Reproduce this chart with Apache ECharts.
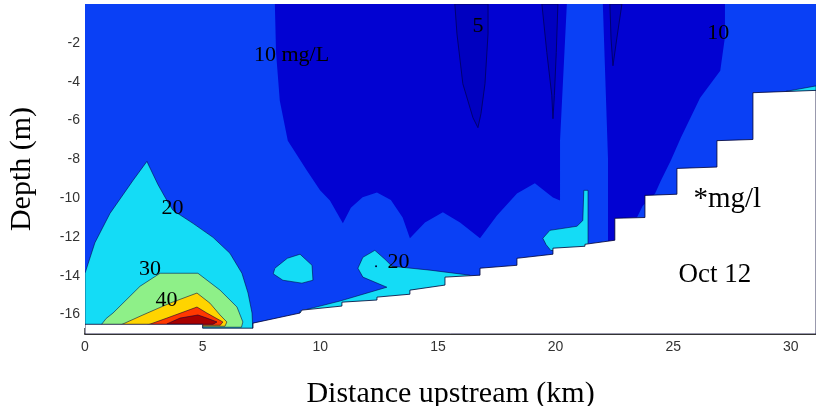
<!DOCTYPE html>
<html>
<head>
<meta charset="utf-8">
<script src="https://cdn.jsdelivr.net/npm/echarts@6/dist/echarts.min.js"></script>
<style>
html, body { margin: 0; padding: 0; background: #fff; }
#chart { width: 816px; height: 406px; }
</style>
</head>
<body>
<div id="chart"></div>
<script>
// contour regions, [distance km, depth m]
var waterBox   = [[0, 0], [31.07, 0], [31.07, -17], [0, -17]];
var darkLeft   = [[8.07, 0], [8.12, -2.5], [8.28, -4.98], [8.62, -7.04], [9.43, -8.58], [9.99, -9.6], [10.41, -10.12],
                  [10.96, -11.30], [11.3, -10.5], [11.8, -9.95], [12.41, -9.71], [13.0, -10.1], [13.5, -11.0],
                  [13.81, -12.07], [14.45, -11.25], [15.21, -10.73], [15.94, -11.25], [16.79, -12.07],
                  [17.51, -10.89], [18.36, -9.76], [19.12, -9.24], [19.89, -9.97], [20.19, -10.12],
                  [20.19, -7.04], [20.48, 0]];
var darkRight  = [[22.01, 0], [27.2, 0], [27.2, -1.7], [27.0, -3.44], [26.14, -4.84], [25.88, -5.5], [25.33, -6.88],
                  [24.9, -8.06], [24.48, -9.09], [24.23, -9.76], [23.7, -10.4], [23.46, -11.0], [23.2, -11.6],
                  [22.52, -12.3], [22.23, -12.5], [22.23, -8.0]];
var navy1      = [[15.72, 0], [15.81, -1.54], [16.06, -4.11], [16.49, -5.86], [16.70, -6.37], [16.83, -5.65],
                  [17.00, -4.11], [17.13, -1.54], [17.13, 0]];
var navy2      = [[19.42, 0], [19.63, -2.5], [19.84, -4.7], [19.89, -5.91], [19.95, -4.7], [20.03, -2.5], [20.1, 0]];
var navy3      = [[22.31, 0], [22.36, -1.8], [22.44, -3.18], [22.6, -1.8], [22.82, 0]];
var cyanPlume  = [[0, -13.87], [0.42, -12.3], [1.06, -10.79], [2.04, -9.09], [2.63, -8.11], [3.1, -9.3],
                  [3.48, -10.12], [3.74, -10.63], [4.59, -11.30], [5.44, -12.02], [6.16, -12.84], [6.67, -13.87],
                  [6.93, -14.89], [7.10, -15.92], [7.14, -17], [0, -17]];
var green      = [[0.64, -16.6], [0.9, -16.2], [1.19, -15.92], [2.34, -14.54], [3.19, -13.87], [4.80, -13.87],
                  [5.74, -14.74], [6.46, -15.61], [6.71, -16.38], [6.65, -16.65], [0.64, -16.65]];
var yellow     = [[1.49, -16.55], [2.46, -16.02], [3.61, -15.41], [4.76, -14.89], [5.31, -15.41], [5.74, -16.02],
                  [6.03, -16.38], [5.95, -16.6], [1.49, -16.6]];
var orange     = [[2.63, -16.55], [3.48, -16.18], [4.76, -15.61], [5.18, -15.92], [5.86, -16.38], [5.75, -16.55],
                  [2.63, -16.55]];
var darkRed    = [[3.48, -16.48], [4.04, -16.18], [4.80, -16.02], [5.18, -16.18], [5.61, -16.38], [5.44, -16.5],
                  [3.48, -16.5]];
var cyanBlob1  = [[8.07, -13.61], [8.6, -13.1], [9.14, -12.89], [9.65, -13.46], [9.69, -14.23], [9.22, -14.38],
                  [8.41, -14.23], [8.0, -13.9]];
var cyanBlob2  = [[11.60, -13.61], [11.81, -13.05], [12.32, -12.69], [12.75, -13.15], [13.05, -13.51],
                  [14.66, -13.71], [16.36, -13.97], [16.4, -15.0], [9.14, -16.3], [9.14, -15.82],
                  [10.84, -15.30], [12.83, -14.59], [11.81, -14.07]];
var cyanPatch  = [[19.46, -12.07], [19.76, -11.66], [20.91, -11.45], [21.16, -11.15], [21.2, -9.6], [21.38, -9.6],
                  [21.38, -12.6], [19.8, -12.7], [19.6, -12.4]];
var cyanSliver = [[29.8, -4.5], [31.07, -4.22], [31.07, -4.6]];
var seabed     = [[0, -16.5], [5.0, -16.5], [5.0, -16.7], [7.14, -16.7], [7.14, -16.44], [9.14, -15.92],
                  [9.22, -15.77], [10.92, -15.56], [10.92, -15.36], [12.41, -15.25], [12.41, -15.10],
                  [13.81, -14.95], [13.81, -14.74], [15.30, -14.48], [15.30, -14.07], [16.79, -13.97],
                  [16.79, -13.61], [18.36, -13.46], [18.36, -13.10], [19.89, -12.89], [19.89, -12.58],
                  [21.25, -12.48], [21.25, -12.38], [22.52, -12.17], [22.52, -11.04], [23.80, -11.0],
                  [23.80, -9.86], [25.16, -9.80], [25.16, -8.47], [26.86, -8.40], [26.86, -7.04],
                  [28.39, -6.98], [28.39, -4.57], [31.07, -4.45], [31.07, -17], [0, -17]];

// text on the plot
var labelText = ['10 mg/L', '5', '10', '20', '30', '40', '20', '*mg/l', 'Oct 12'];
var labelX    = [8.78, 16.70, 26.92, 3.72, 2.76, 3.46, 13.32, 27.30, 26.77];
var labelY    = [-2.62, -1.16, -1.52, -10.50, -13.64, -15.25, -13.28, -10.07, -13.97];
var labelDot  = [[12.37, -13.51]];

var depthTicks = [-16, -14, -12, -10, -8, -6, -4, -2];

var MEDIUM = '#0a40f5', DARK = '#0202d2', NAVY = '#0000c0', CYAN = '#14dcf6',
    GREEN = '#8ef088', YELLOW = '#ffd400', ORANGE = '#ff3800', RED = '#a80000';
var EDGE = 'rgba(0,0,60,0.55)';

var layers = [
    { pts: waterBox,   fill: MEDIUM, stroke: null },
    { pts: cyanPlume,  fill: CYAN,   stroke: EDGE },
    { pts: green,      fill: GREEN,  stroke: EDGE },
    { pts: yellow,     fill: YELLOW, stroke: EDGE },
    { pts: orange,     fill: ORANGE, stroke: EDGE },
    { pts: darkRed,    fill: RED,    stroke: EDGE },
    { pts: darkLeft,   fill: DARK,   stroke: null },
    { pts: darkRight,  fill: DARK,   stroke: null },
    { pts: navy1,      fill: NAVY,   stroke: '#000070' },
    { pts: navy2,      fill: NAVY,   stroke: '#000070' },
    { pts: navy3,      fill: NAVY,   stroke: '#000070' },
    { pts: cyanBlob1,  fill: CYAN,   stroke: EDGE },
    { pts: cyanBlob2,  fill: CYAN,   stroke: EDGE },
    { pts: cyanPatch,  fill: CYAN,   stroke: EDGE },
    { pts: cyanSliver, fill: CYAN,   stroke: EDGE },
    { pts: seabed,     fill: '#ffffff', stroke: 'rgba(0,0,50,0.8)' }
];

function renderLayer(params, api) {
    var layer = layers[params.dataIndex];
    var pts = layer.pts.map(function (p) { return api.coord(p); });
    return {
        type: 'polygon',
        shape: { points: pts },
        style: { fill: layer.fill, stroke: layer.stroke, lineWidth: 1 }
    };
}

var labelData = labelText.map(function (t, i) {
    var size = t === '*mg/l' ? 29 : (t === 'Oct 12' ? 27 : 22);
    return { value: [labelX[i], labelY[i], t], label: { fontSize: size } };
});

var chart = echarts.init(document.getElementById('chart'));
var option = {
    animation: false,
    grid: { left: 85, right: 0, top: 4, bottom: 72, outerBoundsMode: 'none' },
    xAxis: {
        type: 'value',
        min: 0,
        max: 31.07,
        interval: 5,
        name: 'Distance upstream (km)',
        nameLocation: 'middle',
        nameGap: 45,
        nameTextStyle: { fontFamily: 'Liberation Serif', fontSize: 30, color: '#000' },
        axisLine: { show: true, onZero: false, lineStyle: { color: '#333', width: 2 } },
        axisTick: { show: true, inside: true, length: 6, lineStyle: { color: '#333', width: 1.5 } },
        axisLabel: { margin: 6, fontFamily: 'Liberation Sans', fontSize: 14, color: '#333',
                     showMaxLabel: false },
        splitLine: { show: false }
    },
    yAxis: {
        type: 'value',
        min: -17,
        max: 0,
        name: 'Depth (m)',
        nameLocation: 'middle',
        nameGap: 48,
        nameTextStyle: { fontFamily: 'Liberation Serif', fontSize: 30, color: '#000' },
        axisLine: { show: false },
        axisTick: { show: false },
        axisLabel: { customValues: depthTicks, margin: 5, fontFamily: 'Liberation Sans', fontSize: 14, color: '#333' },
        splitLine: { show: false }
    },
    series: [
        {
            type: 'custom',
            renderItem: renderLayer,
            data: layers.map(function () { return [0, 0]; }),
            clip: true,
            silent: true,
            z: 1
        },
        {
            type: 'scatter',
            data: labelDot,
            symbolSize: 2,
            itemStyle: { color: '#000033', opacity: 1 },
            silent: true,
            z: 3
        },
        {
            type: 'scatter',
            data: labelData,
            symbolSize: 0,
            itemStyle: { opacity: 1 },
            silent: true,
            z: 4,
            label: {
                show: true,
                position: 'inside',
                formatter: function (p) { return p.value[2]; },
                fontFamily: 'Liberation Serif',
                color: '#000',
                opacity: 1
            }
        }
    ]
};
chart.setOption(option);
</script>
</body>
</html>
